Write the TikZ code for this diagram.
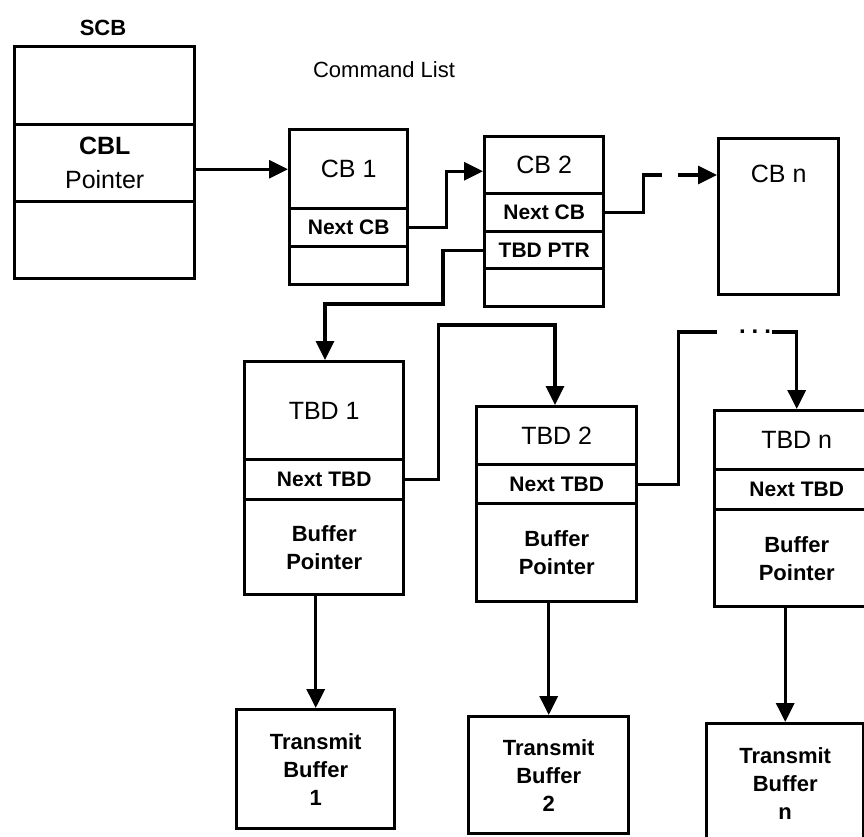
\documentclass[tikz,border=0pt]{standalone}
\usepackage{fontspec}
\setmainfont{Liberation Sans}
\usetikzlibrary{arrows.meta}
\tikzset{
    field/.style={draw, line width=1.7pt, anchor=north west, inner sep=0pt, align=center,
        font=\bfseries\fontsize{10.5}{13}\selectfont},
    headfield/.style={field, font=\fontsize{12.5}{15}\selectfont},
    bufbox/.style={field, font=\bfseries\fontsize{11}{14}\selectfont},
    wire/.style={line width=1.6pt},
    link/.style={wire, -{Triangle[length=9.5pt,width=9pt]}}
}

\begin{document}
\begin{tikzpicture}[x=0.5pt, y=-0.5pt]
            \useasboundingbox (0,0) rectangle (864,837);
            \node[font=\bfseries\fontsize{11}{13}\selectfont] (scbname) at (103,28) {SCB};
            \node[font=\fontsize{11}{13}\selectfont] (listname) at (384,70) {Command List};
            \node[field, minimum width=90pt, minimum height=39pt] (scbtop) at (13,45) {};
            \node[field, minimum width=90pt, minimum height=38.5pt, font=\fontsize{12.5}{17}\selectfont] (scbmid) at (13,123) {\textbf{CBL}\\Pointer};
            \node[field, minimum width=90pt, minimum height=38.5pt] (scbbot) at (13,200) {};
            \node[headfield, minimum width=59pt, minimum height=39.5pt] (cb1top) at (288,128) {CB 1};
            \node[field, minimum width=59pt, minimum height=19pt] (cb1next) at (288,207) {Next CB};
            \node[field, minimum width=59pt, minimum height=19pt] (cb1bot) at (288,245) {};
            \node[headfield, minimum width=59.5pt, minimum height=28.5pt] (cb2top) at (483,135) {CB 2};
            \node[field, minimum width=59.5pt, minimum height=19pt] (cb2next) at (483,192) {Next CB};
            \node[field, minimum width=59.5pt, minimum height=18.5pt] (cb2ptr) at (483,230) {TBD PTR};
            \node[field, minimum width=59.5pt, minimum height=19pt] (cb2bot) at (483,267) {};
            \node[headfield, minimum width=60pt, text height=22pt, text depth=56pt] (cbn) at (717,137) {CB n};
            \node[headfield, minimum width=79.5pt, minimum height=49pt] (tbd1top) at (243,360) {TBD 1};
            \node[field, minimum width=79.5pt, minimum height=20pt] (tbd1next) at (243,458) {Next TBD};
            \node[bufbox, minimum width=79.5pt, minimum height=47.5pt] (tbd1buf) at (243,498) {Buffer\\Pointer};
            \node[headfield, minimum width=80pt, minimum height=29pt] (tbd2top) at (475,405) {TBD 2};
            \node[field, minimum width=80pt, minimum height=19.5pt] (tbd2next) at (475,463) {Next TBD};
            \node[bufbox, minimum width=80pt, minimum height=49pt] (tbd2buf) at (475,502) {Buffer\\Pointer};
            \node[headfield, minimum width=82pt, minimum height=29.5pt] (tbdntop) at (713,409) {TBD n};
            \node[field, minimum width=82pt, minimum height=20pt] (tbdnnext) at (713,468) {Next TBD};
            \node[bufbox, minimum width=82pt, minimum height=48.5pt] (tbdnbuf) at (713,508) {Buffer\\Pointer};
            \node[bufbox, minimum width=79pt, minimum height=59.5pt] (tb1) at (235,708) {Transmit\\Buffer\\1};
            \node[bufbox, minimum width=80pt, minimum height=58.5pt] (tb2) at (467,715) {Transmit\\Buffer\\2};
            \node[bufbox, minimum width=78.5pt, minimum height=60pt] (tbn) at (705,722) {Transmit\\Buffer\\n};
            \coordinate (gapa) at (662,175);
            \coordinate (gapb) at (678,175);
            \coordinate (drop) at (325,304);
            \coordinate (rise) at (555,325);
            \coordinate (dotsa) at (717,332);
            \coordinate (dotsb) at (772,332);
            \node[font=\bfseries\fontsize{12}{13}\selectfont] (dots) at (755,332) {.\hspace{3pt}.\hspace{3pt}.};
            \draw[link] (scbmid.east |- cb1top.west) -- (cb1top.west);
            \draw[link] (cb1next.east) -- ++(37,0) |- ([yshift=-3pt]cb2top.west);
            \draw[wire] (cb2next.east) -- ++(38,0) |- (gapa);
            \draw[link] (gapb) -- (cbn.west |- gapb);
            \draw[link] (cb2ptr.west) -- ++(-40,0) |- (drop) -- (drop |- tbd1top.north);
            \draw[link] (tbd1next.east) -- ++(33,0) |- (rise) -- (rise |- tbd2top.north);
            \draw[wire] (tbd2next.east) -- ++(40,0) |- (dotsa);
            \draw[link] (dotsb) -| (tbdntop.north);
            \draw[link] (tb1.north |- tbd1buf.south) -- (tb1.north);
            \draw[link] (tb2.north |- tbd2buf.south) -- (tb2.north);
            \draw[link] (tbn.north |- tbdnbuf.south) -- (tbn.north);
\end{tikzpicture}
\end{document}
